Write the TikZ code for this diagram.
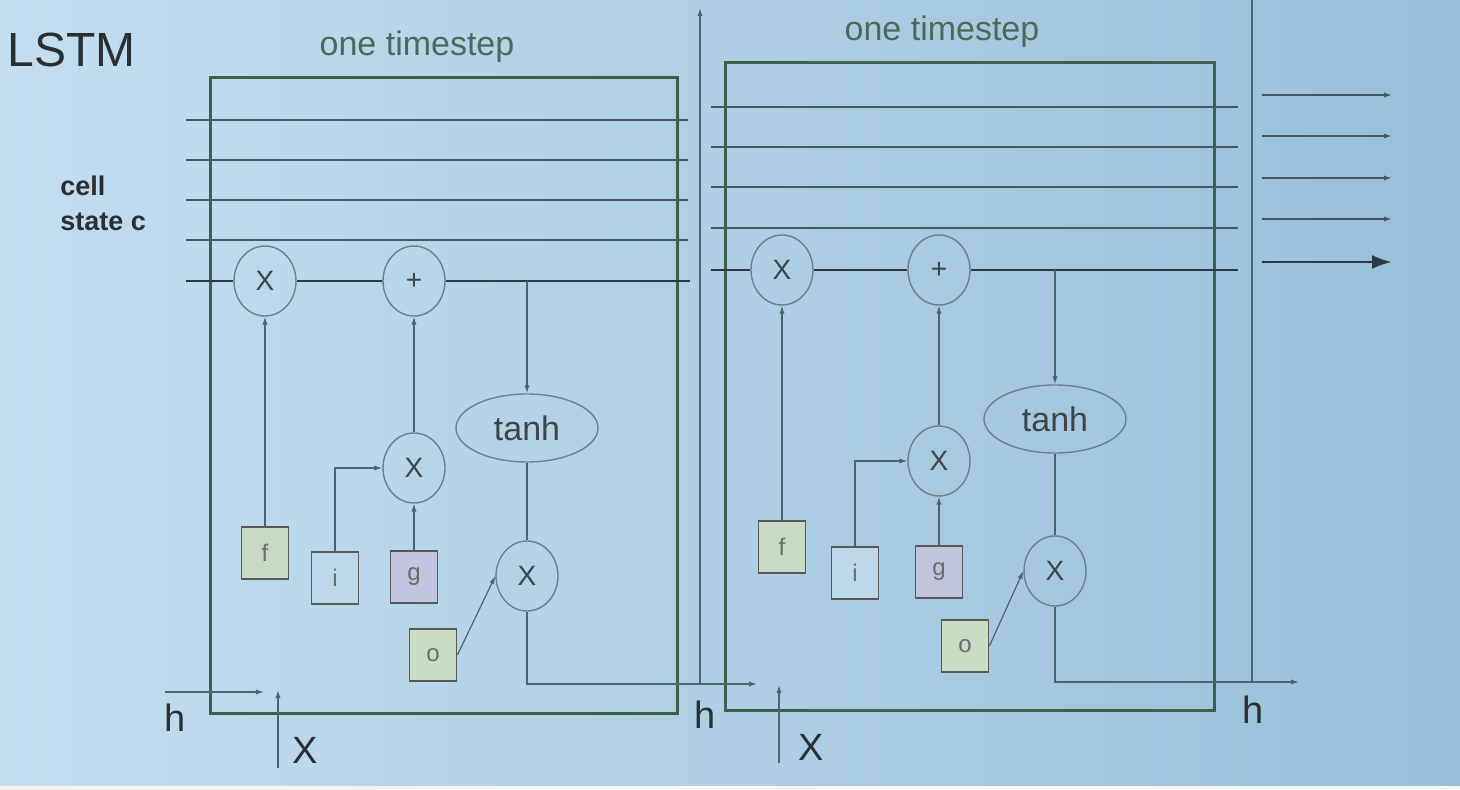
\documentclass[tikz,border=0pt]{standalone}
\usepackage{fontspec}
\setmainfont{Liberation Sans}
\usetikzlibrary{positioning,arrows.meta,shapes.geometric}
\definecolor{slideleft}{HTML}{C4DEF0}
\definecolor{slideright}{HTML}{98BFD9}
\definecolor{framegreen}{HTML}{3F5F4C}
\definecolor{cellgray}{HTML}{2B3A44}
\definecolor{wiregray}{HTML}{4F6270}
\definecolor{opgray}{HTML}{6B7F8C}
\definecolor{inkgray}{HTML}{2A2F33}
\definecolor{titlegreen}{HTML}{4B6B5A}
\definecolor{fgate}{HTML}{C9DAC4}
\definecolor{igate}{HTML}{BDD8E8}
\definecolor{ggate}{HTML}{C0C5DC}
\definecolor{ogate}{HTML}{C9DCC4}

\tikzset{
  op/.style={ellipse, draw=opgray, line width=0.7pt, minimum width=31pt, minimum height=35pt,
    inner sep=0pt, text=inkgray!90, font=\fontsize{14}{14}\selectfont},
  squash/.style={op, minimum width=71pt, minimum height=34pt, font=\fontsize{17}{17}\selectfont},
  gate/.style={rectangle, draw=gray!70!black, line width=0.9pt, minimum width=23.5pt,
    minimum height=26pt, inner sep=0pt, text=inkgray!70, font=\fontsize{12}{12}\selectfont},
  wire/.style={draw=wiregray, line width=0.6pt},
  flow/.style={wire, -{Latex[length=4pt,width=2.6pt]}},
  cellline/.style={draw=cellgray, line width=1.4pt},
  memline/.style={draw=wiregray!90!black, line width=0.8pt},
  frame/.style={draw=framegreen, line width=1.5pt},
  lbl/.style={text=inkgray, inner sep=0pt, font=\fontsize{19}{19}\selectfont},
  steplabel/.style={text=titlegreen, inner sep=0pt, font=\fontsize{17}{17}\selectfont},
}

\begin{document}
\begin{tikzpicture}[x=0.5pt, y=-0.5pt]
  \useasboundingbox (0,0) rectangle (1460,790);
  \shade[left color=slideleft, right color=slideright] (0,0) rectangle (1460,790);
  \fill[gray!8] (0,786) rectangle (1460,790);

  \node[anchor=west, text=inkgray, inner sep=0pt, font=\fontsize{24}{24}\selectfont] (lstm) at (7,50) {LSTM};
  \node[anchor=north west, align=left, text=inkgray, inner sep=0pt,
    font=\bfseries\fontsize{13.5}{17.5}\selectfont] (celltxt) at (60,176) {cell\\state c};

  % first timestep
  \node[steplabel] (step1) at (417,47) {one timestep};
  \draw[frame] (210,78) rectangle (677,713);
  \foreach \y in {120,160,200,240}
    \draw[memline] (186,\y) -- (688,\y);

  \node[op] (fx1) at (265,281) {X};
  \node[op] (add1) at (414,281) {+};
  \node[squash] (tanh1) at (527,428) {tanh};
  \node[op] (mi1) at (414,468) {X};
  \node[op] (mo1) at (527,576) {X};
  \node[gate, fill=fgate] (f1) at (265,553) {f};
  \node[gate, fill=igate] (i1) at (335,578) {i};
  \node[gate, fill=ggate] (g1) at (414,577) {g};
  \node[gate, fill=ogate] (o1) at (433,655) {o};

  \coordinate (cin1) at (186,281);
  \coordinate (cout1) at (690,281);
  \draw[cellline] (cin1) -- (fx1) -- (add1) -- (cout1);
  \draw[flow] (f1) -- (fx1);
  \draw[flow] (i1.north) |- (mi1.west);
  \draw[flow] (g1) -- (mi1);
  \draw[flow] (mi1) -- (add1);
  \draw[flow] (tanh1 |- add1) -- (tanh1.north);
  \draw[wire] (tanh1) -- (mo1);
  \draw[flow] (o1.east) -- (mo1.west);

  % second timestep
  \node[steplabel] (step2) at (942,32) {one timestep};
  \draw[frame] (725,63) rectangle (1214,710);
  \foreach \y in {107,147,187,228}
    \draw[memline] (711,\y) -- (1238,\y);

  \node[op] (fx2) at (782,270) {X};
  \node[op] (add2) at (939,270) {+};
  \node[squash] (tanh2) at (1055,419) {tanh};
  \node[op] (mi2) at (939,461) {X};
  \node[op] (mo2) at (1055,571) {X};
  \node[gate, fill=fgate] (f2) at (782,547) {f};
  \node[gate, fill=igate] (i2) at (855,573) {i};
  \node[gate, fill=ggate] (g2) at (939,572) {g};
  \node[gate, fill=ogate] (o2) at (965,646) {o};

  \coordinate (cin2) at (711,270);
  \coordinate (cout2) at (1238,270);
  \draw[cellline] (cin2) -- (fx2) -- (add2) -- (cout2);
  \draw[flow] (f2) -- (fx2);
  \draw[flow] (i2.north) |- (mi2.west);
  \draw[flow] (g2) -- (mi2);
  \draw[flow] (mi2) -- (add2);
  \draw[flow] (tanh2 |- add2) -- (tanh2.north);
  \draw[wire] (tanh2) -- (mo2);
  \draw[flow] (o2.east) -- (mo2.west);

  % hidden state and inputs
  \coordinate (hin1) at (165,692);
  \coordinate (hend1) at (264,692);
  \coordinate (xin1) at (278,768);
  \coordinate (xend1) at (278,690);
  \coordinate (hsplit1) at (700,684);
  \coordinate (hup1) at (700,8);
  \coordinate (hout1) at (757,684);
  \coordinate (xin2) at (779,763);
  \coordinate (xend2) at (779,685);
  \coordinate (hsplit2) at (1252,682);
  \coordinate (hup2) at (1252,0);
  \coordinate (hout2) at (1299,682);
  \draw[flow] (hin1) -- (hend1);
  \draw[flow] (xin1) -- (xend1);
  \draw[flow] (mo1.south) |- (hout1);
  \draw[flow] (hsplit1) -- (hup1);
  \draw[flow] (xin2) -- (xend2);
  \draw[flow] (mo2.south) |- (hout2);
  \draw[wire] (hsplit2) -- (hup2);

  \node[lbl] (h1) at (175,718) {h};
  \node[lbl] (x1) at (305,750) {X};
  \node[lbl] (h2) at (705,715) {h};
  \node[lbl] (x2) at (811,747) {X};
  \node[lbl] (h3) at (1253,710) {h};

  % cell state carried on
  \foreach \y in {95,136,178,219}
    \draw[memline, -{Latex[length=4pt,width=2.6pt]}] (1262,\y) -- (1392,\y);
  \draw[cellline, -{Latex[length=10pt,width=7pt]}] (1262,262) -- (1392,262);
\end{tikzpicture}
\end{document}
